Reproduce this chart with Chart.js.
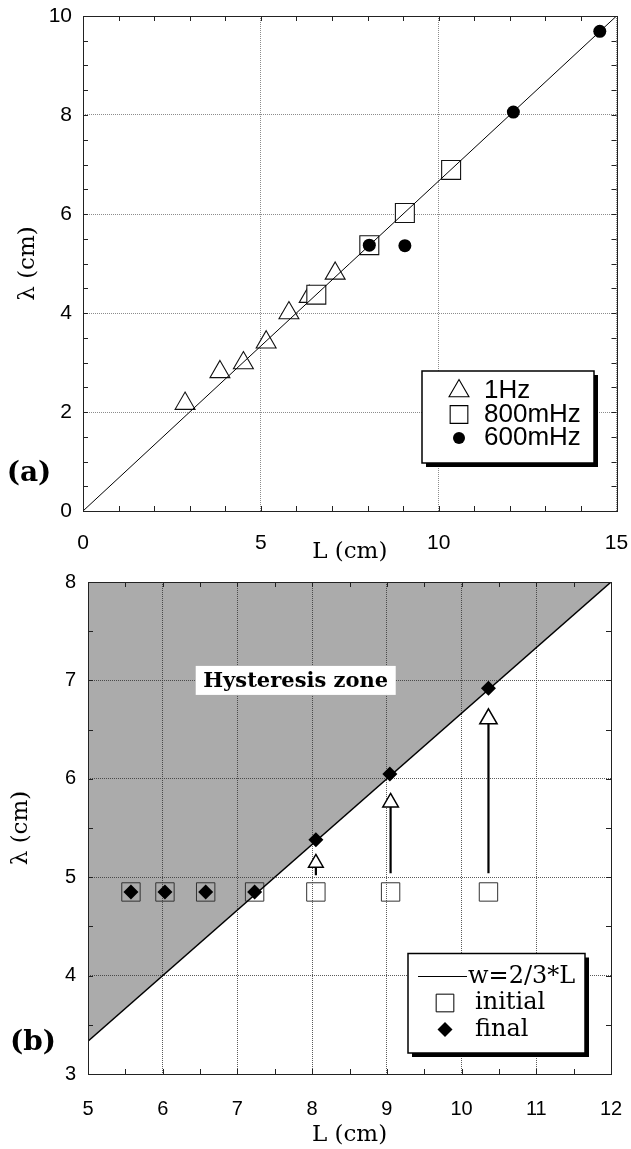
<!DOCTYPE html>
<html>
<head>
<meta charset="utf-8">
<script src="https://cdn.jsdelivr.net/npm/chart.js@4.4.1/dist/chart.umd.min.js"></script>
<style>
  html, body { margin: 0; padding: 0; background: #fff; }
  #wrap { position: relative; width: 631px; height: 1149px; overflow: hidden; }
  #chartA { position: absolute; left: 0; top: 0; }
  #chartB { position: absolute; left: 0; top: 560px; }
</style>
</head>
<body>
<div id="wrap">
  <canvas id="chartB" width="631" height="589"></canvas>
  <canvas id="chartA" width="631" height="575"></canvas>
</div>
<script>
// ---------- panel (a): wavelength vs length ----------
const fitL = [0, 15];
const fitLambda = [0, 10];
const hz1L = [2.87, 3.85, 4.51, 5.15, 5.79, 6.36, 7.09];
const hz1Lambda = [2.17, 2.81, 2.99, 3.41, 4.00, 4.33, 4.80];
const mhz800L = [6.56, 8.05, 9.05, 10.35];
const mhz800Lambda = [4.37, 5.37, 6.02, 6.89];
const mhz600L = [8.05, 9.05, 12.10, 14.53];
const mhz600Lambda = [5.37, 5.36, 8.06, 9.69];
const ticksA_L = [0, 5, 10, 15];
const ticksA_Lambda = [0, 2, 4, 6, 8, 10];

// ---------- panel (b): hysteresis ----------
const zoneL = [5, 12];
const zoneLambda = [10 / 3, 8];
const initialL = [5.575, 6.03, 6.575, 7.23, 8.05, 9.05, 10.36];
const initialLambda = [4.85, 4.85, 4.85, 4.85, 4.85, 4.85, 4.85];
const finalL = [5.575, 6.03, 6.575, 7.23, 8.05, 9.04, 10.36];
const finalLambda = [4.85, 4.85, 4.85, 4.85, 5.38, 6.05, 6.92];
const arrowL = [8.05, 9.05, 10.36];
const arrowFrom = [5.02, 5.04, 5.04];
const arrowHead = [5.145, 5.76, 6.61];
const ticksB_L = [5, 6, 7, 8, 9, 10, 11, 12];
const ticksB_Lambda = [3, 4, 5, 6, 7, 8];

const pts = (xs, ys) => xs.map((x, i) => ({ x: x, y: ys[i] }));

// inward minor ticks on all four sides + plot frame
const frameTicks = {
  id: 'frameTicks',
  afterDatasetsDraw(chart, args, o) {
    const { ctx, chartArea: a } = chart;
    const sx = chart.scales.x, sy = chart.scales.y;
    ctx.save();
    ctx.strokeStyle = '#222';
    ctx.lineWidth = 1;
    ctx.beginPath();
    for (let v = sx.min + o.xMinor; v < sx.max - 1e-6; v += o.xMinor) {
      const p = Math.round(sx.getPixelForValue(v)) + 0.5;
      ctx.moveTo(p, a.bottom); ctx.lineTo(p, a.bottom - o.len);
      ctx.moveTo(p, a.top); ctx.lineTo(p, a.top + o.len);
    }
    for (let v = sy.min + o.yMinor; v < sy.max - 1e-6; v += o.yMinor) {
      const p = Math.round(sy.getPixelForValue(v)) + 0.5;
      ctx.moveTo(a.left, p); ctx.lineTo(a.left + o.len, p);
      ctx.moveTo(a.right, p); ctx.lineTo(a.right - o.len, p);
    }
    ctx.stroke();
    ctx.strokeRect(Math.round(a.left) + 0.5, Math.round(a.top) + 0.5,
      Math.round(a.width), Math.round(a.height));
    ctx.restore();
  }
};

// boxed legend with drop shadow, panel letter and note text
const boxLegend = {
  id: 'boxLegend',
  afterDraw(chart, args, o) {
    const ctx = chart.ctx;
    const b = o.box;
    ctx.save();
    ctx.fillStyle = '#000';
    ctx.fillRect(b.left + 4, b.top + 4, b.right - b.left, b.bottom - b.top);
    ctx.fillStyle = '#fff';
    ctx.fillRect(b.left, b.top, b.right - b.left, b.bottom - b.top);
    ctx.strokeStyle = '#000';
    ctx.lineWidth = 1.5;
    ctx.strokeRect(b.left, b.top, b.right - b.left, b.bottom - b.top);

    o.items.forEach(it => {
      const ds = chart.data.datasets[it.ds];
      if (it.kind === 'line') {
        ctx.strokeStyle = '#000';
        ctx.lineWidth = 1.2;
        ctx.beginPath();
        ctx.moveTo(it.x0, it.y); ctx.lineTo(it.x1, it.y);
        ctx.stroke();
      } else {
        ctx.fillStyle = it.fill;
        ctx.strokeStyle = '#000';
        ctx.lineWidth = it.bw;
        Chart.helpers.drawPoint(ctx,
          { pointStyle: ds.pointStyle, radius: it.r, rotation: 0, borderWidth: it.bw },
          it.mx, it.y);
      }
      ctx.fillStyle = '#000';
      ctx.font = o.font;
      ctx.textAlign = 'left';
      ctx.textBaseline = 'middle';
      ctx.fillText(ds.label, it.tx, it.y);
    });

    ctx.font = 'bold 28px "DejaVu Serif"';
    ctx.textAlign = 'center';
    ctx.textBaseline = 'middle';
    ctx.fillStyle = '#000';
    ctx.fillText(o.panel.text, o.panel.x, o.panel.y);

    if (o.note) {
      const px = chart.scales.x.getPixelForValue(o.note.at[0]);
      const py = chart.scales.y.getPixelForValue(o.note.at[1]);
      ctx.fillStyle = '#fff';
      ctx.fillRect(px - o.note.w / 2, py - o.note.h / 2, o.note.w, o.note.h);
      ctx.fillStyle = '#000';
      ctx.font = o.note.font;
      ctx.fillText(o.note.text, px, py + 1);
    }
    ctx.restore();
  }
};

const tickFont = size => ({ family: 'Liberation Sans', size: size });
const titleFont = { family: 'DejaVu Serif', size: 23 };
const fixX = h => s => { s.height = h; s.paddingLeft = 0; s.paddingRight = 0; };
const fixY = w => s => { s.width = w; s.paddingTop = 0; s.paddingBottom = 0; };

// ---------------- chart (a) ----------------
new Chart(document.getElementById('chartA'), {
  type: 'scatter',
  data: {
    datasets: [
      { label: 'fit', data: pts(fitL, fitLambda), showLine: true, pointRadius: 0,
        borderColor: '#000', borderWidth: 1, order: 0 },
      { label: '600mHz', data: pts(mhz600L, mhz600Lambda), pointStyle: 'circle',
        pointRadius: 6.5, backgroundColor: '#000', borderColor: '#000', borderWidth: 0, order: 1 },
      { label: '800mHz', data: pts(mhz800L, mhz800Lambda), pointStyle: 'rect',
        pointRadius: 13.4, backgroundColor: '#fff', borderColor: '#111', borderWidth: 1.1, order: 2 },
      { label: '1Hz', data: pts(hz1L, hz1Lambda), pointStyle: 'triangle',
        pointRadius: 11.5, backgroundColor: '#fff', borderColor: '#111', borderWidth: 1.1, order: 3 }
    ]
  },
  options: {
    responsive: false,
    animation: false,
    events: [],
    layout: { padding: { left: 0, top: 16, right: 12, bottom: 0 } },
    scales: {
      x: {
        type: 'linear', min: 0, max: 15,
        afterBuildTicks: s => { s.ticks = ticksA_L.map(v => ({ value: v })); },
        afterFit: fixX(64),
        grid: { color: '#8c8c8c', lineWidth: 1, drawTicks: false },
        border: { display: false, dash: [1, 1] },
        ticks: { font: tickFont(21), color: '#000', padding: 20, maxRotation: 0 },
        title: { display: true, text: 'L (cm)', font: titleFont, color: '#000',
          padding: { top: 0, bottom: 9 } }
      },
      y: {
        type: 'linear', min: 0, max: 10,
        afterBuildTicks: s => { s.ticks = ticksA_Lambda.map(v => ({ value: v })); },
        afterFit: fixY(83),
        grid: { color: '#8c8c8c', lineWidth: 1, drawTicks: false },
        border: { display: false, dash: [1, 1] },
        ticks: { font: tickFont(21), color: '#000', padding: 11 },
        title: { display: true, text: 'λ (cm)', font: titleFont, color: '#000',
          padding: { top: 14, bottom: 0 } }
      }
    },
    plugins: {
      legend: { display: false },
      tooltip: { enabled: false },
      frameTicks: { xMinor: 1, yMinor: 0.5, len: 5 },
      boxLegend: {
        box: { left: 422, top: 371, right: 594, bottom: 463 },
        font: '26px "Liberation Sans"',
        items: [
          { ds: 3, mx: 459, y: 391, r: 11.5, bw: 1.1, fill: '#fff', tx: 484 },
          { ds: 2, mx: 459, y: 414.5, r: 12.5, bw: 1.1, fill: '#fff', tx: 484 },
          { ds: 1, mx: 459, y: 438, r: 6, bw: 0, fill: '#000', tx: 484 }
        ],
        panel: { text: '(a)', x: 29, y: 474 }
      }
    }
  },
  plugins: [frameTicks, boxLegend]
});

// ---------------- chart (b) ----------------
const shaftData = arrowL.flatMap((x, i) => [
  { x: x, y: arrowFrom[i] }, { x: x, y: arrowHead[i] }, { x: x, y: null }
]);

new Chart(document.getElementById('chartB'), {
  type: 'scatter',
  data: {
    datasets: [
      { label: 'final', data: pts(finalL, finalLambda), pointStyle: 'rectRot',
        pointRadius: 7.5, backgroundColor: '#000', borderColor: '#000', borderWidth: 0, order: 0 },
      { label: 'heads', data: pts(arrowL, arrowHead), pointStyle: 'triangle',
        pointRadius: [8.5, 9, 10], backgroundColor: '#fff', borderColor: '#000', borderWidth: 1.5, order: 1 },
      { label: 'shafts', data: shaftData, showLine: true, spanGaps: false, pointRadius: 0,
        borderColor: '#000', borderWidth: 2.2, order: 2 },
      { label: 'w=2/3*L', data: pts(zoneL, zoneLambda), showLine: true, pointRadius: 0,
        borderColor: '#000', borderWidth: 1.4, fill: 'end', backgroundColor: '#ababab', order: 3 },
      { label: 'initial', data: pts(initialL, initialLambda), pointStyle: 'rect',
        pointRadius: 13, backgroundColor: 'rgba(0,0,0,0)', borderColor: '#333', borderWidth: 1, order: 4 }
    ]
  },
  options: {
    responsive: false,
    animation: false,
    events: [],
    layout: { padding: { left: 0, top: 22, right: 20, bottom: 0 } },
    scales: {
      x: {
        type: 'linear', min: 5, max: 12,
        afterBuildTicks: s => { s.ticks = ticksB_L.map(v => ({ value: v })); },
        afterFit: fixX(75),
        grid: { color: 'rgba(50,50,50,0.8)', lineWidth: 1, drawTicks: false },
        border: { display: false, dash: [1, 1] },
        ticks: { font: tickFont(20), color: '#000', padding: 23, maxRotation: 0 },
        title: { display: true, text: 'L (cm)', font: titleFont, color: '#000',
          padding: { top: 0, bottom: 0 } }
      },
      y: {
        type: 'linear', min: 3, max: 8,
        afterBuildTicks: s => { s.ticks = ticksB_Lambda.map(v => ({ value: v })); },
        afterFit: fixY(88),
        grid: { color: 'rgba(50,50,50,0.8)', lineWidth: 1, drawTicks: false },
        border: { display: false, dash: [1, 1] },
        ticks: { font: tickFont(20), color: '#000', padding: 12 },
        title: { display: true, text: 'λ (cm)', font: titleFont, color: '#000',
          padding: { top: 7, bottom: 0 } }
      }
    },
    plugins: {
      legend: { display: false },
      tooltip: { enabled: false },
      filler: { drawTime: 'beforeDraw' },
      frameTicks: { xMinor: 0.5, yMinor: 0.5, len: 5 },
      boxLegend: {
        box: { left: 408, top: 393.5, right: 585, bottom: 493 },
        font: '24px "DejaVu Serif"',
        items: [
          { ds: 3, kind: 'line', x0: 418, x1: 467, y: 416.5, tx: 468 },
          { ds: 4, mx: 445, y: 443, r: 12.5, bw: 1, fill: '#fff', tx: 475 },
          { ds: 0, mx: 445, y: 469.5, r: 7.5, bw: 0, fill: '#000', tx: 475 }
        ],
        panel: { text: '(b)', x: 33, y: 483 },
        note: { text: 'Hysteresis zone', at: [7.78, 7.0], w: 200, h: 29,
          font: 'bold 21px "DejaVu Serif"' }
      }
    }
  },
  plugins: [frameTicks, boxLegend]
});
</script>
</body>
</html>
